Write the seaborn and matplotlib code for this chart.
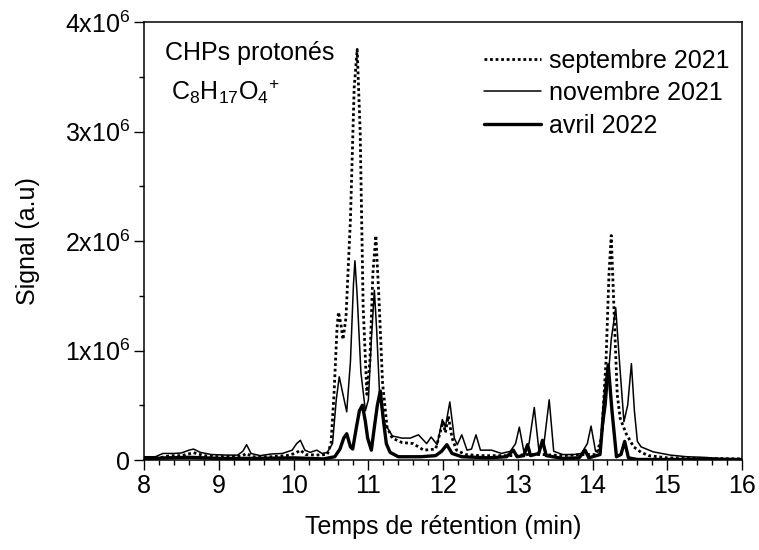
import pandas as pd
import matplotlib.pyplot as plt
import matplotlib.ticker as mticker
import seaborn as sns

# Retention time (min) and signal (x10^6 a.u.)
t_sep = [8.0, 8.2, 8.35, 8.5, 8.66, 8.8, 9.0, 9.3, 9.37, 9.45, 9.7, 9.9, 10.02, 10.09,
         10.16, 10.3, 10.45, 10.5, 10.54, 10.58, 10.6, 10.63, 10.66, 10.7, 10.76, 10.81,
         10.85, 10.89, 10.93, 10.98, 11.02, 11.06, 11.1, 11.14, 11.19, 11.25, 11.32,
         11.45, 11.6, 11.74, 11.9, 11.96, 12.0, 12.03, 12.07, 12.12, 12.18, 12.3, 12.5,
         12.94, 13.13, 13.33, 13.6, 13.9, 14.05, 14.12, 14.18, 14.22, 14.25, 14.28, 14.33,
         14.37, 14.45, 14.55, 14.65, 14.75, 15.0, 15.5, 16.0]
y_sep = [0.02, 0.02, 0.04, 0.04, 0.067, 0.04, 0.03, 0.035, 0.06, 0.03, 0.03, 0.04, 0.06, 0.09,
         0.05, 0.045, 0.05, 0.15, 0.6, 1.2, 1.35, 1.25, 1.1, 1.3, 2.2, 3.4,
         3.75, 3.0, 1.4, 0.6, 0.9, 1.7, 2.05, 1.5, 0.7, 0.3, 0.2,
         0.16, 0.15, 0.09, 0.1, 0.25, 0.35, 0.25, 0.4, 0.2, 0.09, 0.05, 0.04,
         0.04, 0.05, 0.05, 0.04, 0.05, 0.05, 0.2, 0.9, 1.7, 2.05, 1.5, 0.6,
         0.38, 0.24, 0.12, 0.07, 0.04, 0.02, 0.015, 0.01]

t_nov = [8.0, 8.15, 8.25, 8.4, 8.5, 8.6, 8.66, 8.75, 8.9, 9.1, 9.25, 9.32, 9.37, 9.43,
         9.55, 9.7, 9.85, 9.98, 10.04, 10.09, 10.15, 10.22, 10.31, 10.38, 10.45, 10.52,
         10.57, 10.61, 10.66, 10.71, 10.76, 10.8, 10.82, 10.85, 10.9, 10.96, 11.0, 11.04,
         11.08, 11.11, 11.15, 11.2, 11.25, 11.32, 11.45, 11.56, 11.67, 11.78, 11.84,
         11.92, 11.99, 12.03, 12.09, 12.15, 12.19, 12.25, 12.32, 12.38, 12.44, 12.5,
         12.65, 12.78, 12.9, 12.97, 13.02, 13.08, 13.15, 13.22, 13.28, 13.35, 13.42,
         13.48, 13.6, 13.75, 13.85, 13.93, 13.98, 14.04, 14.1, 14.18, 14.25, 14.31,
         14.36, 14.42, 14.47, 14.52, 14.56, 14.6, 14.65, 14.81, 15.04, 15.26, 15.5,
         15.7, 16.0]
y_nov = [0.03, 0.03, 0.06, 0.06, 0.065, 0.09, 0.10, 0.07, 0.05, 0.045, 0.045, 0.08, 0.14, 0.06,
         0.04, 0.055, 0.06, 0.09, 0.15, 0.18, 0.09, 0.07, 0.09, 0.06, 0.07, 0.15,
         0.55, 0.76, 0.6, 0.44, 0.9, 1.6, 1.82, 1.5, 0.8, 0.45, 0.55, 1.1,
         1.55, 1.2, 0.6, 0.35, 0.3, 0.22, 0.2, 0.2, 0.23, 0.15, 0.21,
         0.14, 0.37, 0.3, 0.53, 0.2, 0.14, 0.23, 0.09, 0.1, 0.23, 0.09,
         0.09, 0.06, 0.08, 0.15, 0.3, 0.08, 0.15, 0.48, 0.1, 0.15, 0.55,
         0.08, 0.05, 0.05, 0.06, 0.15, 0.31, 0.08, 0.1, 0.5, 1.1, 1.39,
         0.9, 0.35, 0.5, 0.88, 0.45, 0.17, 0.12, 0.075, 0.045, 0.03, 0.024,
         0.015, 0.01]

t_avr = [8.0, 8.3, 8.6, 9.0, 9.5, 10.0, 10.4, 10.55, 10.62, 10.67, 10.71, 10.76, 10.79,
         10.84, 10.88, 10.92, 10.96, 10.99, 11.04, 11.08, 11.12, 11.16, 11.2, 11.24,
         11.29, 11.4, 11.7, 11.9, 11.98, 12.05, 12.12, 12.25, 12.6, 12.85, 12.94, 12.99,
         13.08, 13.13, 13.17, 13.28, 13.33, 13.38, 13.6, 13.82, 13.9, 13.95, 14.1, 14.16,
         14.21, 14.26, 14.32, 14.38, 14.43, 14.48, 14.6, 15.0, 16.0]
y_avr = [0.01, 0.02, 0.025, 0.015, 0.015, 0.02, 0.01, 0.03, 0.1, 0.2, 0.24, 0.12, 0.1,
         0.3, 0.45, 0.5, 0.35, 0.2, 0.09, 0.3, 0.5, 0.63, 0.37, 0.15,
         0.07, 0.03, 0.03, 0.04, 0.08, 0.14, 0.06, 0.03, 0.02, 0.03, 0.09, 0.03,
         0.04, 0.14, 0.04, 0.06, 0.18, 0.04, 0.015, 0.02, 0.09, 0.02, 0.05, 0.55,
         0.87, 0.45, 0.03, 0.05, 0.17, 0.02, 0.005, 0.005, 0.005]

sns.set_style("ticks")
plt.rcParams['font.family'] = ['Liberation Sans', 'DejaVu Sans']
plt.rcParams['mathtext.fontset'] = 'custom'
plt.rcParams['mathtext.rm'] = 'Liberation Sans'
plt.rcParams['mathtext.it'] = 'Liberation Sans'
plt.rcParams['text.color'] = 'black'
plt.rcParams['axes.labelcolor'] = 'black'
plt.rcParams['xtick.color'] = 'black'
plt.rcParams['ytick.color'] = 'black'

fs = 18
fig = plt.figure(figsize=(7.59, 5.5), dpi=100)
ax = fig.add_axes([0.19, 0.1636, 0.7876, 0.7964])

series = [
    (t_sep, y_sep, "septembre 2021", (0, (1, 1.0)), 2.0),
    (t_nov, y_nov, "novembre 2021", "-", 1.1),
    (t_avr, y_avr, "avril 2022", "-", 2.4),
]
for t, y, lab, ls, lw in series:
    df = pd.DataFrame({"t": t, "y": y})
    sns.lineplot(data=df, x="t", y="y", ax=ax, color="black", linestyle=ls,
                 linewidth=lw, label=lab, sort=False, estimator=None)

ax.set_xlim(8, 16)
ax.set_ylim(0, 4)
ax.xaxis.set_major_locator(mticker.MultipleLocator(1))
ax.xaxis.set_minor_locator(mticker.MultipleLocator(0.2))
ax.yaxis.set_major_locator(mticker.MultipleLocator(1))
ax.yaxis.set_minor_locator(mticker.MultipleLocator(0.5))
ax.yaxis.set_major_formatter(mticker.FuncFormatter(
    lambda v, p: "0" if v == 0 else r"%dx10$^{6}$" % round(v)))
ax.tick_params(which="major", direction="out", length=7, width=1, labelsize=fs,
               color="black", labelcolor="black", pad=3)
ax.tick_params(which="minor", direction="out", length=3.5, width=1, color="black")
for s in ax.spines.values():
    s.set_linewidth(1.1)
    s.set_color("black")

ax.set_xlabel("Temps de rétention (min)", fontsize=fs, labelpad=12, color="black")
ax.set_ylabel("Signal (a.u)", fontsize=fs, labelpad=18, color="black")

ax.text(0.035, 0.93, "CHPs protonés", transform=ax.transAxes, fontsize=fs, va="center")
ax.text(0.045, 0.84, r"C$_{8}$H$_{17}$O$_{4}$$^{+}$", transform=ax.transAxes,
        fontsize=fs, va="center")

ax.legend(loc="upper right", bbox_to_anchor=(1.0, 0.968), frameon=False, fontsize=fs,
          handlelength=2.3, handletextpad=0.3, labelspacing=0.34,
          borderpad=0.2, borderaxespad=0.3)

plt.savefig("out.png", dpi=100)
